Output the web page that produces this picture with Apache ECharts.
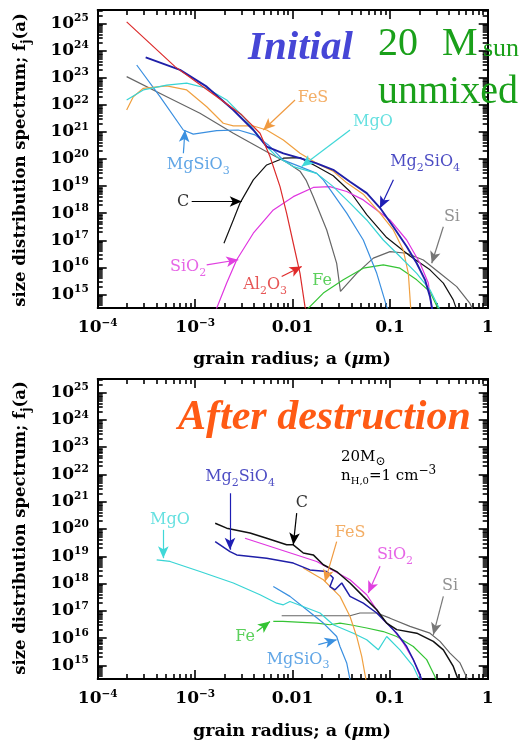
<!DOCTYPE html>
<html><head><meta charset="utf-8">
<script src="https://cdn.jsdelivr.net/npm/echarts@6.0.0/dist/echarts.min.js"></script>
<style>html,body{margin:0;padding:0;background:#fff;}#chart{width:523px;height:747px;}</style>
</head><body><div id="chart"></div>
<script>
// x = log10(a / micron), y = log10 f_j(a)
const xTickValues = [-4, -3, -2, -1, 0];
const xTickLabels = [['10', '−4'], ['10', '−3'], ['0.01', ''], ['0.1', ''], ['1', '']];
const yTickValues = [15, 16, 17, 18, 19, 20, 21, 22, 23, 24, 25];

// ---- Initial (upper panel) ----
const initAl2O3 = [[-3.703,25.06],[-3.207,23.41],[-2.899,22.61],[-2.523,21.63],[-2.335,20.95],[-2.233,20.09],[-2.130,18.98],[-2.062,17.99],[-1.994,16.89],[-1.925,15.78],[-1.874,14.55],[-1.86,14.4]];
const initMg2SiO4 = [[-3.508,23.75],[-3.156,23.29],[-2.882,22.67],[-2.609,21.81],[-2.404,21.07],[-2.267,20.46],[-2.096,20.21],[-1.925,20.03],[-1.754,19.84],[-1.584,19.60],[-1.412,19.16],[-1.241,18.74],[-1.105,18.20],[-0.968,17.50],[-0.831,16.77],[-0.728,16.15],[-0.643,15.54],[-0.592,14.92],[-0.566,14.4]];
const initMgO = [[-3.703,22.18],[-3.532,22.55],[-3.292,22.73],[-3.087,22.80],[-2.882,22.61],[-2.677,22.18],[-2.507,21.56],[-2.369,20.95],[-2.267,20.46],[-2.164,20.09],[-1.994,19.72],[-1.754,19.47],[-1.584,18.98],[-1.412,18.37],[-1.241,17.75],[-1.071,17.01],[-0.900,16.40],[-0.728,15.78],[-0.592,15.17],[-0.485,14.4]];
const initMgSiO3 = [[-3.600,23.47],[-3.361,22.30],[-3.122,21.07],[-3.020,20.92],[-2.780,21.05],[-2.558,21.07],[-2.387,20.89],[-2.250,20.52],[-2.096,19.96],[-1.925,19.72],[-1.754,19.47],[-1.686,19.23],[-1.446,18.00],[-1.276,17.01],[-1.138,15.78],[-1.036,14.55],[-1.02,14.4]];
const initC = [[-2.705,16.89],[-2.609,17.75],[-2.541,18.37],[-2.404,19.23],[-2.267,19.78],[-2.096,20.03],[-1.925,20.05],[-1.754,19.72],[-1.584,19.38],[-1.412,18.80],[-1.241,17.95],[-1.036,17.10],[-0.797,16.42],[-0.592,15.91],[-0.455,15.42],[-0.353,14.80],[-0.315,14.4]];
const initSi = [[-3.703,23.04],[-3.292,22.30],[-2.951,21.69],[-2.609,20.95],[-2.267,20.27],[-2.050,19.85],[-1.925,19.55],[-1.860,19.20],[-1.789,18.61],[-1.651,17.38],[-1.549,16.15],[-1.510,15.11],[-1.344,15.78],[-1.173,16.34],[-1.002,16.58],[-0.831,16.52],[-0.660,16.27],[-0.489,15.78],[-0.318,15.29],[-0.182,14.67],[-0.148,14.4]];
const initFeS = [[-3.703,21.81],[-3.635,22.30],[-3.532,22.61],[-3.292,22.70],[-3.087,22.55],[-2.882,21.93],[-2.712,21.32],[-2.609,21.22],[-2.404,21.22],[-2.267,21.07],[-2.096,20.70],[-1.925,20.21],[-1.754,19.84],[-1.584,19.55],[-1.446,19.12],[-1.276,18.70],[-1.105,18.00],[-0.968,17.38],[-0.866,16.64],[-0.814,15.78],[-0.788,14.4]];
const initSiO2 = [[-2.790,14.4],[-2.677,15.42],[-2.574,16.28],[-2.404,17.26],[-2.199,18.12],[-1.994,18.61],[-1.789,18.95],[-1.620,18.98],[-1.446,18.80],[-1.276,18.49],[-1.002,17.75],[-0.831,17.01],[-0.694,16.15],[-0.609,15.42],[-0.572,14.4]];
const initFe = [[-1.865,14.4],[-1.686,15.05],[-1.481,15.54],[-1.276,15.97],[-1.071,16.09],[-0.900,15.97],[-0.728,15.54],[-0.592,15.10],[-0.500,14.4]];

// ---- After destruction (lower panel) ----
const aftC = [[-2.795,20.21],[-2.677,20.03],[-2.438,19.85],[-2.267,19.66],[-2.062,19.42],[-1.994,19.42],[-1.891,19.12],[-1.789,19.05],[-1.686,18.69],[-1.549,18.44],[-1.412,18.02],[-1.276,17.53],[-1.138,17.04],[-1.036,16.55],[-0.933,16.31],[-0.728,16.18],[-0.558,15.88],[-0.455,15.57],[-0.353,14.96],[-0.295,14.4]];
const aftMg2SiO4 = [[-2.795,19.54],[-2.643,19.17],[-2.574,19.05],[-2.267,18.93],[-1.994,18.75],[-1.823,18.50],[-1.651,18.44],[-1.584,18.20],[-1.618,17.89],[-1.566,17.77],[-1.497,18.02],[-1.412,17.53],[-1.276,17.28],[-1.138,16.92],[-1.036,16.55],[-0.933,16.18],[-0.831,15.69],[-0.763,15.21],[-0.694,14.66],[-0.672,14.4]];
const aftSiO2 = [[-2.489,19.66],[-1.754,18.81],[-1.412,18.14],[-1.241,17.59],[-1.071,16.67],[-0.968,16.31],[-0.866,15.82],[-0.763,15.21],[-0.672,14.4]];
const aftFeS = [[-1.891,18.57],[-1.686,18.14],[-1.515,17.53],[-1.412,16.79],[-1.344,16.06],[-1.292,15.33],[-1.245,14.4]];
const aftMgO = [[-3.395,18.87],[-3.258,18.81],[-2.951,18.44],[-2.609,18.02],[-2.335,17.59],[-2.164,17.28],[-2.096,17.22],[-2.028,17.34],[-1.720,16.92],[-1.584,16.49],[-1.378,16.18],[-1.241,15.94],[-1.122,15.57],[-1.036,16.06],[-0.900,15.57],[-0.763,14.96],[-0.690,14.4]];
const aftMgSiO3 = [[-2.199,17.89],[-2.028,17.53],[-1.856,17.04],[-1.686,16.55],[-1.549,16.06],[-1.515,15.69],[-1.446,15.09],[-1.408,14.4]];
const aftFe = [[-2.199,16.61],[-2.100,16.61],[-1.754,16.55],[-1.618,16.49],[-1.515,16.55],[-1.412,16.49],[-1.241,16.37],[-1.071,16.24],[-0.933,16.06],[-0.763,15.69],[-0.626,15.21],[-0.541,14.59],[-0.525,14.4]];
const aftSi = [[-2.113,16.82],[-1.412,16.82],[-1.310,16.92],[-1.138,16.92],[-1.002,16.73],[-0.797,16.43],[-0.592,16.18],[-0.489,15.88],[-0.387,15.45],[-0.284,15.09],[-0.195,14.4]];

// species name labels [log a, log f, text]
const initLabels = [[-1.792,22.25,'FeS'],[-1.177,21.37,'MgO'],[-2.969,19.78,'MgSiO3'],[-0.642,19.89,'Mg2SiO4'],[-3.124,18.42,'C'],[-0.367,17.86,'Si'],[-3.073,16.02,'SiO2'],[-2.283,15.35,'Al2O3'],[-1.699,15.50,'Fe']];
const aftLabels = [[-2.540,21.91,'Mg2SiO4'],[-1.905,20.96,'C'],[-3.259,20.34,'MgO'],[-1.412,19.86,'FeS'],[-0.951,19.05,'SiO2'],[-0.387,17.92,'Si'],[-2.489,16.05,'Fe'],[-1.945,15.21,'MgSiO3']];
// arrows [x1, y1, x2, y2, species]
const initArrows = [[-1.976,22.18,-2.302,21.07,'FeS'],[-1.412,21.07,-1.908,19.72,'MgO'],[-3.121,20.21,-3.105,21.07,'MgSiO3'],[-0.967,19.23,-1.105,18.18,'Mg2SiO4'],[-3.036,18.43,-2.523,18.43,'C'],[-0.455,17.50,-0.574,16.15,'Si'],[-2.882,16.09,-2.558,16.28,'SiO2'],[-2.113,15.66,-1.908,16.03,'Al2O3']];
const aftArrows = [[-2.643,21.31,-2.643,19.24,'Mg2SiO4'],[-1.959,20.58,-1.994,19.42,'C'],[-3.327,19.97,-3.327,18.93,'MgO'],[-1.549,19.54,-1.669,18.07,'FeS'],[-1.104,18.63,-1.225,17.65,'SiO2'],[-0.455,17.53,-0.558,16.12,'Si'],[-2.369,16.24,-2.233,16.61,'Fe'],[-1.737,15.76,-1.549,15.94,'MgSiO3']];

const lineColor = {Al2O3:'#dc2b2b', Mg2SiO4:'#1f1fa8', MgO:'#38d4d4', MgSiO3:'#3a8fe0', C:'#111111', Si:'#666666', FeS:'#f0a040', SiO2:'#e035e0', Fe:'#35c435'};
const labelColor = {Al2O3:'#e02a2a', Mg2SiO4:'#1e1eb4', MgO:'#40d8d8', MgSiO3:'#3a90e0', C:'#000000', Si:'#777777', FeS:'#f09a40', SiO2:'#e040e0', Fe:'#33c433'};

const X_MIN = -4, X_MAX = 0, Y_MIN = 14.5, Y_MAX = 25.5;
const F = 'DejaVu Serif';

const xMinor = [];
for (let n = -4; n < 0; n++) for (let k = 2; k <= 9; k++) xMinor.push(n + Math.log10(k));
const yMinor = [];
for (let n = 14; n <= 25; n++) for (let k = 2; k <= 9; k++) { const v = n + Math.log10(k); if (v > Y_MIN && v < Y_MAX) yMinor.push(v); }

const grids = [
  {left: 97.7, top: 10, width: 390, height: 298, outerBoundsMode: 'none', containLabel: false},
  {left: 97.7, top: 379, width: 390, height: 300, outerBoundsMode: 'none', containLabel: false}
];

const labRich = {
  b: {fontFamily: F, fontSize: 17, fontWeight: 'bold', lineHeight: 18, color: '#000'},
  s: {fontFamily: F, fontSize: 10.5, fontWeight: 'bold', lineHeight: 12, padding: [0, 0, 10, 0], color: '#000'},
  e: {fontFamily: F, fontSize: 1, lineHeight: 12, padding: [0, 0, 10, 0], color: '#000'}
};

function axis(dim, g, pos, ticks, len, labels) {
  const a = {
    type: 'value', gridIndex: g, position: pos,
    min: dim === 'x' ? X_MIN : Y_MIN, max: dim === 'x' ? X_MAX : Y_MAX,
    axisLine: {show: true, onZero: false, lineStyle: {color: '#000', width: 1.8}},
    splitLine: {show: false},
    axisTick: {show: true, inside: true, length: len, customValues: ticks, lineStyle: {color: '#000', width: 1.6}},
    axisLabel: {show: false}
  };
  if (labels && dim === 'x') {
    a.axisLabel = {show: true, customValues: xTickValues, margin: 11, rich: labRich,
      formatter: v => { const t = xTickLabels[xTickValues.indexOf(Math.round(v))]; return '{b|' + t[0] + '}' + (t[1] ? '{s|' + t[1] + '}' : '{e| }'); }};
  }
  if (labels && dim === 'y') {
    a.axisLabel = {show: true, customValues: yTickValues, margin: 9, rich: labRich,
      formatter: v => '{b|10}{s|' + Math.round(v) + '}'};
  }
  return a;
}

const xAxes = [], yAxes = [];
[0, 1].forEach(g => {
  xAxes.push(axis('x', g, 'bottom', xTickValues, 9, true));
  xAxes.push(axis('x', g, 'bottom', xMinor, 5, false));
  xAxes.push(axis('x', g, 'top', xTickValues, 9, false));
  xAxes.push(axis('x', g, 'top', xMinor, 5, false));
  yAxes.push(axis('y', g, 'left', yTickValues, 9, true));
  yAxes.push(axis('y', g, 'left', yMinor, 5, false));
  yAxes.push(axis('y', g, 'right', yTickValues, 9, false));
  yAxes.push(axis('y', g, 'right', yMinor, 5, false));
});

function lineS(g, name, data, width) {
  return {type: 'line', name: name, xAxisIndex: g * 4, yAxisIndex: g * 4, data: data,
    symbol: 'none', showSymbol: false, clip: true, silent: true, animation: false,
    lineStyle: {color: lineColor[name], width: width || 1.2}, z: 3};
}
function chem(t) { return t.replace(/(\d)/g, '{sub|$1}'); }
function labelS(g, list) {
  return {type: 'scatter', xAxisIndex: g * 4, yAxisIndex: g * 4, symbolSize: 0, silent: true, animation: false, z: 5,
    data: list.map(l => ({value: [l[0], l[1]], name: l[2], label: {color: labelColor[l[2]]}})),
    label: {show: true, position: 'inside', fontFamily: F, fontSize: 16, formatter: p => chem(p.name),
      rich: {sub: {fontFamily: F, fontSize: 11, lineHeight: 12, padding: [12, 0, 0, 0]}}}};
}
function arrowS(g, list) {
  return {type: 'line', xAxisIndex: g * 4, yAxisIndex: g * 4, data: [], silent: true, animation: false, z: 4,
    markLine: {silent: true, animation: false, symbol: ['none', 'arrow'], symbolSize: [8, 12], label: {show: false},
      data: list.map(a => [
        {coord: [a[0], a[1]], lineStyle: {color: labelColor[a[4]], width: 1.2, type: 'solid'}},
        {coord: [a[2], a[3]], lineStyle: {color: labelColor[a[4]], width: 1.2, type: 'solid'}}
      ])}};
}

const series = [
  lineS(0, 'Si', initSi), lineS(0, 'C', initC), lineS(0, 'Fe', initFe), lineS(0, 'SiO2', initSiO2),
  lineS(0, 'MgSiO3', initMgSiO3), lineS(0, 'FeS', initFeS), lineS(0, 'MgO', initMgO),
  lineS(0, 'Mg2SiO4', initMg2SiO4, 1.9), lineS(0, 'Al2O3', initAl2O3),
  labelS(0, initLabels), arrowS(0, initArrows),
  lineS(1, 'Si', aftSi), lineS(1, 'Fe', aftFe), lineS(1, 'MgSiO3', aftMgSiO3), lineS(1, 'MgO', aftMgO),
  lineS(1, 'FeS', aftFeS), lineS(1, 'SiO2', aftSiO2), lineS(1, 'Mg2SiO4', aftMg2SiO4, 1.5), lineS(1, 'C', aftC, 1.5),
  labelS(1, aftLabels), arrowS(1, aftArrows)
];

function txt(x, y, text, size, opts) {
  return Object.assign({type: 'text', x: x, y: y, silent: true, z: 10,
    style: Object.assign({text: text, fontFamily: F, fontSize: size, fill: '#000', align: 'center', verticalAlign: 'middle'}, opts || {})});
}
const titleRichX = {t: {fontFamily: F, fontSize: 17.5, fontWeight: 'bold', fill: '#000'}, i: {fontFamily: F, fontSize: 17.5, fontWeight: 'bold', fontStyle: 'italic', fill: '#000'}};
const titleRichY = {t: {fontFamily: F, fontSize: 16.5, fontWeight: 'bold', fill: '#000', lineHeight: 20}, j: {fontFamily: F, fontSize: 12, fontWeight: 'bold', fill: '#000', lineHeight: 12, padding: [12, 0, 0, 0]}};
const xTitle = '{t|grain radius; a (}{i|μ}{t|m)}';
const yTitle = '{t|size distribution spectrum; f}{j|j}{t|(a)}';
const ppt = 'Liberation Serif';

const graphic = [
  txt(292, 359, xTitle, 17.5, {rich: titleRichX}),
  txt(292, 731, xTitle, 17.5, {rich: titleRichX}),
  Object.assign(txt(21, 160, yTitle, 16.5, {rich: titleRichY}), {rotation: Math.PI / 2}),
  Object.assign(txt(21, 528, yTitle, 16.5, {rich: titleRichY}), {rotation: Math.PI / 2}),
  txt(248, 48, 'Initial', 41, {fontFamily: ppt, fontStyle: 'italic', fontWeight: 'bold', fill: '#4646d6', align: 'left'}),
  txt(378, 44, '20', 40, {fontFamily: ppt, fill: '#1aa01a', align: 'left'}),
  txt(442, 44, 'M', 40, {fontFamily: ppt, fill: '#1aa01a', align: 'left'}),
  txt(483, 49, 'sun', 26, {fontFamily: ppt, fill: '#1aa01a', align: 'left'}),
  txt(378, 92, 'unmixed', 40, {fontFamily: ppt, fill: '#1aa01a', align: 'left'}),
  txt(178, 418, 'After destruction', 42, {fontFamily: ppt, fontStyle: 'italic', fontWeight: 'bold', fill: '#ff5a14', align: 'left'}),
  txt(341, 457, '{t|20M}{sub|⊙}', 15, {align: 'left', rich: {t: {fontFamily: F, fontSize: 15, fill: '#000'}, sub: {fontFamily: F, fontSize: 12, fill: '#000', padding: [10, 0, 0, 0]}}}),
  txt(341, 476, '{t|n}{sub|H,0}{t|=1 cm}{sup|−3}', 15, {align: 'left', rich: {t: {fontFamily: F, fontSize: 15, fill: '#000'}, sub: {fontFamily: F, fontSize: 10, fill: '#000', padding: [10, 0, 0, 0]}, sup: {fontFamily: F, fontSize: 12, fill: '#000', padding: [0, 0, 10, 0]}}})
];

const chart = echarts.init(document.getElementById('chart'), null, {renderer: 'canvas'});
chart.setOption({
  animation: false,
  backgroundColor: '#fff',
  grid: grids,
  xAxis: xAxes,
  yAxis: yAxes,
  series: series,
  graphic: graphic
});
</script>
</body></html>
